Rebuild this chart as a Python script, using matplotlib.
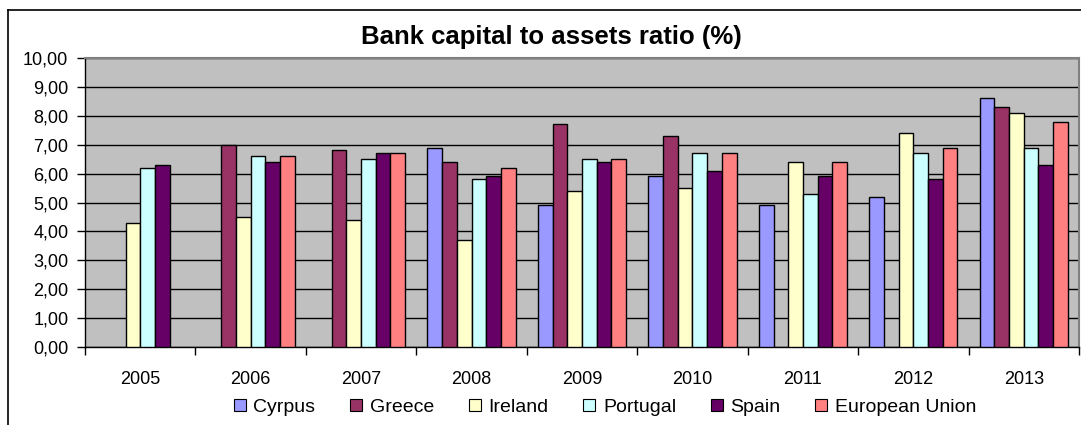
import numpy as np
import matplotlib.pyplot as plt
from matplotlib.lines import Line2D
from matplotlib.ticker import FixedLocator, FuncFormatter

plt.rcParams['font.family'] = ['Liberation Sans', 'DejaVu Sans']

years = ['2005', '2006', '2007', '2008', '2009', '2010', '2011', '2012', '2013']
countries = ['Cyrpus', 'Greece', 'Ireland', 'Portugal', 'Spain', 'European Union']
cyprus = [np.nan, np.nan, np.nan, 6.9, 4.9, 5.9, 4.9, 5.2, 8.6]
greece = [np.nan, 7.0, 6.8, 6.4, 7.7, 7.3, np.nan, np.nan, 8.3]
ireland = [4.3, 4.5, 4.4, 3.7, 5.4, 5.5, 6.4, 7.4, 8.1]
portugal = [6.2, 6.6, 6.5, 5.8, 6.5, 6.7, 5.3, 6.7, 6.9]
spain = [6.3, 6.4, 6.7, 5.9, 6.4, 6.1, 5.9, 5.8, 6.3]
eu = [np.nan, 6.6, 6.7, 6.2, 6.5, 6.7, 6.4, 6.9, 7.8]
colors = ['#9999FF', '#993366', '#FFFFCC', '#CCFFFF', '#660066', '#FF8080']

series = [cyprus, greece, ireland, portugal, spain, eu]

fig = plt.figure(figsize=(10.81, 4.25), dpi=100)
ax = fig.add_axes([85 / 1081, 1 - 347 / 425, (1079 - 85) / 1081, (347 - 58) / 425])
ax.set_facecolor('#C0C0C0')

x = np.arange(len(years))
w = 0.133
for i, (vals, c) in enumerate(zip(series, colors)):
    ax.bar(x + (i - 2.5) * w, vals, w, color=c, edgecolor='black', linewidth=1.0, zorder=3)

ax.set_xlim(-0.5, len(years) - 0.5)
ax.set_ylim(0, 10)
ax.set_yticks(np.arange(0, 11, 1))
ax.yaxis.set_major_formatter(FuncFormatter(lambda v, p: f'{v:.2f}'.replace('.', ',')))
ax.grid(axis='y', color='black', linewidth=1.0, zorder=1)

ax.set_xticks(x)
ax.set_xticklabels(years)
ax.xaxis.set_minor_locator(FixedLocator(np.arange(-0.5, len(years), 1)))
ax.tick_params(axis='x', which='major', length=0, pad=17, labelsize=13)
ax.tick_params(axis='x', which='minor', length=6, width=1, color='black', direction='out')
ax.tick_params(axis='y', length=6, width=1, labelsize=13, pad=6)

for s in ['left', 'bottom']:
    ax.spines[s].set_color('black')
    ax.spines[s].set_linewidth(1.0)
for s in ['top', 'right']:
    ax.spines[s].set_color('#808080')
    ax.spines[s].set_linewidth(1.5)

fig.text(0.51, 1 - 37 / 425, 'Bank capital to assets ratio (%)', ha='center', va='center',
         fontsize=18.5, fontweight='bold')

handles = [Line2D([], [], marker='s', linestyle='none', markersize=9,
                  markerfacecolor=c, markeredgecolor='black', markeredgewidth=0.8)
           for c in colors]
fig.legend(handles, countries, loc='center', bbox_to_anchor=(0.558, 1 - 407 / 425),
           ncol=6, frameon=False, fontsize=14, handletextpad=0.2, columnspacing=1.6,
           handlelength=1.0, borderaxespad=0)

# outer chart border
fig.add_artist(plt.Line2D([8 / 1081, 8 / 1081], [0, 1 - 10 / 425], color='black', lw=1.2))
fig.add_artist(plt.Line2D([8 / 1081, 1], [1 - 10 / 425, 1 - 10 / 425], color='black', lw=1.2))

fig.savefig('out.png', dpi=100)
